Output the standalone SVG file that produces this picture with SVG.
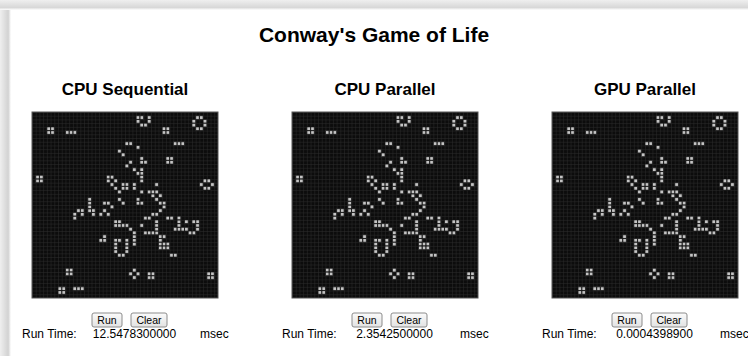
<svg xmlns="http://www.w3.org/2000/svg" xmlns:xlink="http://www.w3.org/1999/xlink" width="748" height="356" viewBox="0 0 748 356">
<style>
text{font-family:"Liberation Sans",Arial,Helvetica,sans-serif;fill:#000}
.title{font-size:21px;font-weight:bold}
.sub{font-size:17px;font-weight:bold}
.lbl{font-size:12px}
.btn rect{fill:url(#btnGrad);stroke:#8c8c8c;stroke-width:1}
.btn text{font-size:10.5px;text-anchor:middle}
.board{fill:url(#grid);stroke:#555;stroke-width:1}
.live{fill:#c4c4c4;stroke:#141414;stroke-width:0.2}
</style>
<defs>
<linearGradient id="shL" x1="0" x2="1" y1="0" y2="0">
<stop offset="0" stop-color="#efefef"/><stop offset="0.75" stop-color="#d2d2d2"/><stop offset="1" stop-color="#ffffff"/>
</linearGradient>
<linearGradient id="shT" x1="0" x2="0" y1="0" y2="1">
<stop offset="0" stop-color="#efefef"/><stop offset="0.75" stop-color="#d8d8d8"/><stop offset="1" stop-color="#ffffff"/>
</linearGradient>
<linearGradient id="btnGrad" x1="0" x2="0" y1="0" y2="1">
<stop offset="0" stop-color="#fbfbfb"/><stop offset="1" stop-color="#e2e2e2"/>
</linearGradient>
<pattern id="grid" patternUnits="userSpaceOnUse" width="3.72" height="3.72">
<rect width="3.72" height="3.72" fill="#0c0c0c"/>
<path d="M0 0.3H3.72M0.3 0V3.72" stroke="#2c2c2c" stroke-width="0.6"/>
</pattern>
<g id="cells" transform="scale(3.72)">
<path class="live" d="M28 1h1v1h-1zM29 1h1v1h-1zM31 1h1v1h-1zM44 1h1v1h-1zM45 1h1v1h-1z
M28 2h1v1h-1zM31 2h1v1h-1zM43 2h1v1h-1zM46 2h1v1h-1z
M29 3h1v1h-1zM30 3h1v1h-1zM43 3h1v1h-1zM46 3h1v1h-1z
M4 4h1v1h-1zM5 4h1v1h-1zM35 4h1v1h-1zM36 4h1v1h-1zM44 4h1v1h-1zM45 4h1v1h-1z
M4 5h1v1h-1zM5 5h1v1h-1zM9 5h1v1h-1zM10 5h1v1h-1zM11 5h1v1h-1zM35 5h1v1h-1zM36 5h1v1h-1z
M25 8h1v1h-1zM26 8h1v1h-1zM38 8h1v1h-1zM39 8h1v1h-1zM40 8h1v1h-1z
M28 9h1v1h-1zM23 10h1v1h-1zM24 11h1v1h-1z
M29 12h1v1h-1zM36 12h1v1h-1zM37 12h1v1h-1z
M26 13h1v1h-1zM29 13h1v1h-1zM30 13h1v1h-1zM36 13h1v1h-1zM37 13h1v1h-1z
M25 14h1v1h-1zM27 15h1v1h-1zM29 15h1v1h-1zM28 16h1v1h-1zM29 16h1v1h-1z
M1 17h1v1h-1zM2 17h1v1h-1zM20 17h1v1h-1zM21 17h1v1h-1zM29 17h1v1h-1z
M1 18h1v1h-1zM2 18h1v1h-1zM20 18h1v1h-1zM22 18h1v1h-1zM29 18h1v1h-1zM46 18h1v1h-1zM47 18h1v1h-1z
M21 19h1v1h-1zM24 19h1v1h-1zM25 19h1v1h-1zM27 19h1v1h-1zM33 19h1v1h-1zM45 19h1v1h-1zM48 19h1v1h-1z
M22 20h1v1h-1zM24 20h1v1h-1zM25 20h1v1h-1zM27 20h1v1h-1zM46 20h1v1h-1zM47 20h1v1h-1z
M23 21h1v1h-1zM29 21h1v1h-1zM31 21h1v1h-1zM32 21h1v1h-1zM33 21h1v1h-1z
M32 22h1v1h-1zM34 22h1v1h-1z
M15 23h1v1h-1zM23 23h1v1h-1zM28 23h1v1h-1zM33 23h1v1h-1z
M15 24h1v1h-1zM19 24h1v1h-1zM20 24h1v1h-1zM24 24h1v1h-1zM28 24h1v1h-1zM29 24h1v1h-1zM34 24h1v1h-1zM35 24h1v1h-1z
M15 25h1v1h-1zM21 25h1v1h-1zM35 25h1v1h-1z
M12 26h1v1h-1zM13 26h1v1h-1zM15 26h1v1h-1zM16 26h1v1h-1zM19 26h1v1h-1zM34 26h1v1h-1z
M11 27h1v1h-1zM13 27h1v1h-1zM16 27h1v1h-1zM18 27h1v1h-1zM20 27h1v1h-1zM32 27h1v1h-1zM33 27h1v1h-1z
M11 28h1v1h-1zM30 28h1v1h-1zM31 28h1v1h-1zM36 28h1v1h-1zM37 28h1v1h-1zM39 28h1v1h-1z
M22 29h1v1h-1zM23 29h1v1h-1zM33 29h1v1h-1zM39 29h1v1h-1zM41 29h1v1h-1zM43 29h1v1h-1zM44 29h1v1h-1z
M22 30h1v1h-1zM23 30h1v1h-1zM24 30h1v1h-1zM25 30h1v1h-1zM29 30h1v1h-1zM33 30h1v1h-1zM39 30h1v1h-1zM44 30h1v1h-1z
M26 31h1v1h-1zM33 31h1v1h-1zM38 31h1v1h-1zM39 31h1v1h-1zM40 31h1v1h-1zM41 31h1v1h-1zM44 31h1v1h-1z
M27 32h1v1h-1zM30 32h1v1h-1zM31 32h1v1h-1zM32 32h1v1h-1zM33 32h1v1h-1zM42 32h1v1h-1zM43 32h1v1h-1z
M19 33h1v1h-1zM27 33h1v1h-1zM34 33h1v1h-1zM35 33h1v1h-1z
M18 34h1v1h-1zM19 34h1v1h-1zM22 34h1v1h-1zM23 34h1v1h-1zM25 34h1v1h-1zM27 34h1v1h-1zM34 34h1v1h-1z
M22 35h1v1h-1zM25 35h1v1h-1zM27 35h1v1h-1zM34 35h1v1h-1zM35 35h1v1h-1zM36 35h1v1h-1z
M22 36h1v1h-1zM25 36h1v1h-1zM34 36h1v1h-1zM35 36h1v1h-1zM36 36h1v1h-1z
M22 37h1v1h-1zM25 37h1v1h-1z
M23 38h1v1h-1zM24 38h1v1h-1zM37 38h1v1h-1zM38 38h1v1h-1z
M9 42h1v1h-1zM10 42h1v1h-1zM27 42h1v1h-1z
M9 43h1v1h-1zM10 43h1v1h-1zM26 43h1v1h-1zM28 43h1v1h-1zM31 43h1v1h-1zM32 43h1v1h-1zM47 43h1v1h-1zM48 43h1v1h-1z
M27 44h1v1h-1zM31 44h1v1h-1zM32 44h1v1h-1zM47 44h1v1h-1zM48 44h1v1h-1z
M7 47h1v1h-1zM8 47h1v1h-1zM11 47h1v1h-1zM12 47h1v1h-1zM13 47h1v1h-1z
M7 48h1v1h-1zM8 48h1v1h-1z"/>
</g>
</defs>
<rect width="748" height="356" fill="#ffffff"/>
<rect x="0" y="0" width="11" height="356" fill="url(#shL)"/>
<rect x="0" y="0" width="748" height="10" fill="url(#shT)"/>
<g id="connectors"/>
<text class="title" x="374" y="42" text-anchor="middle">Conway's Game of Life</text>
<g id="panel-cpu-sequential">
<text class="sub" x="125" y="95" text-anchor="middle">CPU Sequential</text>
<g transform="translate(32 112)"><rect class="board" width="186" height="186"/><use xlink:href="#cells" href="#cells"/></g>
<g class="btn"><rect x="92" y="313" width="30" height="14" rx="2"/><text x="107" y="324">Run</text></g>
<g class="btn"><rect x="131" y="313" width="36" height="14" rx="2"/><text x="149" y="324">Clear</text></g>
<text class="lbl" x="22" y="338">Run Time:</text>
<text class="lbl" x="134.5" y="338" text-anchor="middle">12.5478300000</text>
<text class="lbl" x="200" y="338">msec</text>
</g>
<g id="panel-cpu-parallel">
<text class="sub" x="385" y="95" text-anchor="middle">CPU Parallel</text>
<g transform="translate(292 112)"><rect class="board" width="186" height="186"/><use xlink:href="#cells" href="#cells"/></g>
<g class="btn"><rect x="352" y="313" width="30" height="14" rx="2"/><text x="367" y="324">Run</text></g>
<g class="btn"><rect x="391" y="313" width="36" height="14" rx="2"/><text x="409" y="324">Clear</text></g>
<text class="lbl" x="282" y="338">Run Time:</text>
<text class="lbl" x="394.5" y="338" text-anchor="middle">2.3542500000</text>
<text class="lbl" x="460" y="338">msec</text>
</g>
<g id="panel-gpu-parallel">
<text class="sub" x="645" y="95" text-anchor="middle">GPU Parallel</text>
<g transform="translate(552 112)"><rect class="board" width="186" height="186"/><use xlink:href="#cells" href="#cells"/></g>
<g class="btn"><rect x="612" y="313" width="30" height="14" rx="2"/><text x="627" y="324">Run</text></g>
<g class="btn"><rect x="651" y="313" width="36" height="14" rx="2"/><text x="669" y="324">Clear</text></g>
<text class="lbl" x="542" y="338">Run Time:</text>
<text class="lbl" x="654.5" y="338" text-anchor="middle">0.0004398900</text>
<text class="lbl" x="720" y="338">msec</text>
</g>
</svg>
